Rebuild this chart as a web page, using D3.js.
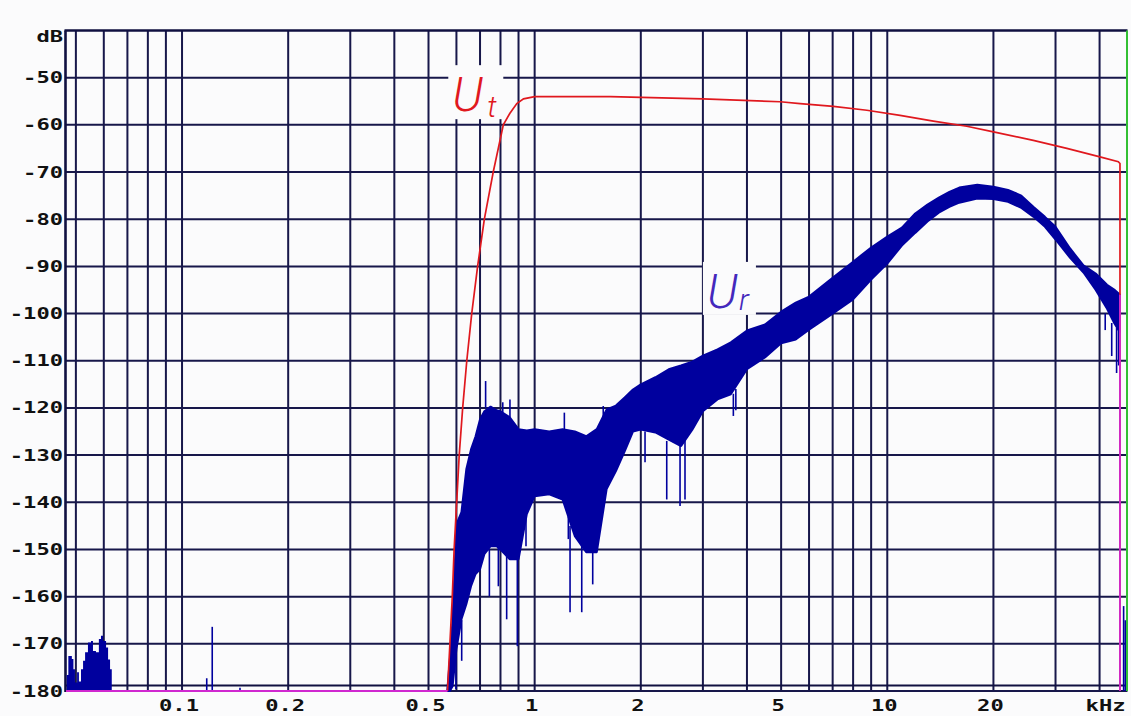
<!DOCTYPE html>
<html>
<head>
<meta charset="utf-8">
<script src="https://cdn.jsdelivr.net/npm/d3@7"></script>
<style>
  body { margin: 0; background: #fbfbfc; }
  svg { display: block; }
</style>
</head>
<body>
<div id="root"></div>
<script>
// frequency in kHz, level in dB

const xTickValues = [0.1, 0.2, 0.5, 1, 2, 5, 10, 20];
const xTickLabels = ["0.1", "0.2", "0.5", "1", "2", "5", "10", "20"];
const yTickValues = [-50, -60, -70, -80, -90, -100, -110, -120, -130, -140, -150, -160, -170, -180];
const yTickLabels = ["-50", "-60", "-70", "-80", "-90", "-100", "-110", "-120", "-130", "-140", "-150", "-160", "-170", "-180"];

// U_t, transmitted level
const utFreq = [0.566, 0.575, 0.584, 0.591, 0.601, 0.611, 0.625, 0.642, 0.663, 0.689, 0.72, 0.763, 0.815, 0.85, 0.89, 0.93, 1.0, 1.64, 3.0, 4.97, 5.66, 7.03, 8.75, 10.87, 13.51, 16.8, 20.0, 25.95, 32.3, 40.1, 45.2, 45.7, 45.7];
const utDb = [-180, -170, -160, -150, -140, -130, -120, -110, -100, -90, -80, -70, -60, -57.6, -55.5, -54.5, -54.0, -54.0, -54.5, -55.1, -55.5, -56.1, -56.9, -58.0, -59.2, -60.3, -61.5, -63.3, -65.0, -66.8, -67.8, -68.2, -180];

// U_r, received level: noisy band read as upper / lower envelope
const urFreq = [0.565, 0.575, 0.585, 0.6, 0.62, 0.64, 0.66, 0.68, 0.7, 0.72, 0.75, 0.78, 0.8, 0.85, 0.9, 0.95, 1.0, 1.1, 1.2, 1.3, 1.4, 1.5, 1.6, 1.7, 1.8, 1.9, 2.0, 2.2, 2.4, 2.6, 2.8, 3.0, 3.3, 3.6, 4.0, 4.5, 5.0, 5.5, 6.0, 7, 8, 9, 10, 11, 12, 13, 14, 15, 16, 18, 20, 22, 24, 26, 28, 30, 33, 36, 39, 42, 44, 45.7];
const urHigh = [-180, -173.2, -164.8, -144.7, -142.1, -133.0, -128.8, -126.0, -122.4, -120.7, -119.7, -120.5, -120.7, -122.0, -124.5, -124.8, -124.5, -125.0, -124.5, -125.0, -126.0, -124.5, -120.3, -119.5, -117.8, -116.1, -115.0, -113.5, -111.8, -111.0, -110.2, -108.9, -107.6, -106.1, -103.6, -102.3, -99.6, -97.7, -96.4, -92.4, -89.0, -86.0, -83.7, -81.8, -78.8, -76.9, -75.4, -74.2, -73.3, -72.7, -73.1, -73.8, -75.0, -77.4, -79.5, -81.6, -86.2, -89.8, -91.5, -93.9, -94.9, -96.0];
const urLow = [-180, -180, -179, -171.1, -164.8, -161.6, -157.8, -155.2, -154.2, -151.0, -149.3, -149.3, -150.0, -152.1, -152.1, -142.5, -138.7, -138.3, -139.4, -147.2, -150.6, -150.6, -137.2, -133.4, -129.2, -125.0, -124.6, -125.2, -126.7, -128.1, -124.6, -120.7, -118.2, -117.1, -111.8, -109.3, -106.3, -105.5, -103.4, -100.0, -97.0, -92.8, -89.4, -85.6, -82.9, -80.5, -78.6, -77.4, -76.5, -75.6, -75.7, -76.3, -77.6, -79.5, -81.6, -84.3, -88.2, -91.3, -95.0, -99.0, -102.0, -104.0];

// single spikes of U_r: frequency, start level, end level
const spikeFreq = [0.598, 0.621, 0.744, 0.789, 0.833, 0.893, 0.945, 1.246, 1.26, 1.36, 1.461, 2.056, 2.369, 2.584, 2.669, 3.66, 3.72, 41.5, 43.3, 44.7, 45.3, 0.726, 0.812, 0.851, 1.214, 1.565, 0.1175, 0.1218, 0.146, 46.8, 47.3];
const spikeFrom = [-171, -165, -150, -149.5, -151, -152, -143, -143, -145, -149, -150, -125, -127, -128, -127, -117, -116, -100, -102, -103, -103, -120, -121, -122, -124.5, -122, -180, -180, -180, -180, -180];
const spikeTo = [-179.6, -173.6, -159.9, -157.8, -164.8, -170.5, -149.3, -147.8, -163.3, -163.3, -157.4, -131.5, -139.4, -140.8, -139.4, -121.7, -120.5, -103.5, -109.0, -112.6, -111.0, -114.3, -118.8, -118.2, -121.0, -119.6, -177.3, -166.4, -179.3, -162, -165];

// low-frequency hum cluster of U_r
const humFreq = [0.0469, 0.0471, 0.0476, 0.0481, 0.0487, 0.0492, 0.0497, 0.0504, 0.0510, 0.0517, 0.0524, 0.0531, 0.0541, 0.0552, 0.0559, 0.0570, 0.0581, 0.0589, 0.0597, 0.0609, 0.0617, 0.0625, 0.0632];
const humTop = [-180, -176.6, -172.6, -172.6, -173.2, -175.4, -178.2, -176.0, -178.0, -175.4, -173.6, -171.8, -169.7, -169.4, -171.5, -171.8, -169.0, -168.3, -169.4, -170.8, -173.3, -175.4, -177.9];

// where U_t and U_r coincide (drawn magenta)
const overlapBaseFreq = [0.046875, 0.566];
const overlapBaseDb = [-180, -180];
const overlapEdgeFreq = [45.7, 45.7];
const overlapEdgeDb = [-96, -180];

const width = 1131, height = 716;

const x = d3.scaleLog().domain([0.046875, 48]).range([66, 1127.5]);
const y = d3.scaleLinear().domain([-180, -40]).range([691, 30.5]);

const gridColor = "#17174a";
const blue = "#00009e";
const red = "#e0181e";
const magenta = "#d028d0";
const labelFont = "'DejaVu Sans Mono', 'Liberation Mono', monospace";

const svg = d3.select("#root").append("svg")
  .attr("width", width)
  .attr("height", height)
  .attr("viewBox", [0, 0, width, height]);

svg.append("rect").attr("width", width).attr("height", height).attr("fill", "#fbfbfc");

// grid
const grid = svg.append("g").attr("stroke", gridColor).attr("stroke-width", 2);
grid.selectAll("line.v")
  .data(x.ticks().filter((t) => t < 48))
  .join("line")
  .attr("class", "v")
  .attr("x1", (d) => x(d)).attr("x2", (d) => x(d))
  .attr("y1", y(-40)).attr("y2", y(-180));
grid.selectAll("line.h")
  .data(yTickValues)
  .join("line")
  .attr("class", "h")
  .attr("x1", x.range()[0]).attr("x2", x.range()[1])
  .attr("y1", (d) => y(d)).attr("y2", (d) => y(d));

// frame
const frame = svg.append("g").attr("stroke", "#101040");
frame.append("line").attr("stroke-width", 2.6)
  .attr("x1", x.range()[0] - 1.5).attr("x2", x.range()[1]).attr("y1", y(-40)).attr("y2", y(-40));
frame.append("line").attr("stroke-width", 2.6)
  .attr("x1", x.range()[0] - 0.5).attr("x2", x.range()[0] - 0.5).attr("y1", y(-40)).attr("y2", y(-180) + 1);
frame.append("line").attr("stroke-width", 1.8)
  .attr("x1", x.range()[0]).attr("x2", x.range()[1]).attr("y1", y(-180) - 5.5).attr("y2", y(-180) - 5.5);

// axis labels
function monoText(g, str) {
  return g.append("text")
    .attr("font-family", labelFont)
    .attr("font-weight", "bold")
    .attr("font-size", 15)
    .attr("fill", "#111")
    .attr("textLength", str.length * 13.3)
    .attr("lengthAdjust", "spacingAndGlyphs")
    .text(str);
}

const yLab = svg.append("g");
yTickValues.forEach((v, i) => {
  monoText(yLab, yTickLabels[i]).attr("text-anchor", "end").attr("x", 63).attr("y", y(v) + 5.5);
});
monoText(yLab, "dB").attr("text-anchor", "end").attr("x", 63).attr("y", y(-40) + 11);

const xLab = svg.append("g");
xTickValues.forEach((v, i) => {
  monoText(xLab, xTickLabels[i]).attr("text-anchor", "middle").attr("x", x(v) - 3).attr("y", 711);
});
monoText(xLab, "kHz").attr("text-anchor", "middle").attr("x", x(40) + 6).attr("y", 711);

// curve labels with a blank box behind them
function curveLabel(main, sub, f, db, color, subDx, subDy) {
  const g = svg.append("g");
  const box = g.append("rect").attr("fill", "#fbfbfc");
  const t = g.append("g").attr("fill", color)
    .attr("font-family", "Roboto, 'Liberation Sans', sans-serif")
    .attr("font-style", "italic")
    .attr("font-weight", 300);
  t.append("text").attr("x", x(f)).attr("y", y(db)).attr("font-size", 48).text(main);
  t.append("text").attr("x", x(f) + subDx).attr("y", y(db) + subDy).attr("font-size", 30).text(sub);
  const b = t.node().getBBox();
  box.attr("x", b.x - 4).attr("y", b.y - 1).attr("width", b.width + 10).attr("height", b.height - 4);
}
curveLabel("U", "t", 0.584, -57.1, red, 35, 6);
curveLabel("U", "r", 3.08, -98.8, "#4428bc", 32, 2);

// U_r
const band = d3.range(urFreq.length).map((i) => ({ f: urFreq[i], hi: urHigh[i], lo: urLow[i] }));
svg.append("path")
  .datum(band)
  .attr("fill", blue)
  .attr("stroke", blue)
  .attr("stroke-width", 2)
  .attr("stroke-linejoin", "bevel")
  .attr("d", d3.area().x((d) => x(d.f)).y0((d) => y(d.lo)).y1((d) => y(d.hi)));

const hum = humFreq.map((f, i) => ({ f, db: humTop[i] }));
svg.append("path")
  .datum(hum)
  .attr("fill", blue)
  .attr("d", d3.area().curve(d3.curveStepAfter).x((d) => x(d.f)).y0(y(-180)).y1((d) => y(d.db)));

svg.append("g")
  .attr("stroke", blue)
  .attr("stroke-width", 1.6)
  .selectAll("line")
  .data(spikeFreq.map((f, i) => ({ f, a: spikeFrom[i], b: spikeTo[i] })))
  .join("line")
  .attr("x1", (d) => x(d.f)).attr("x2", (d) => x(d.f))
  .attr("y1", (d) => y(d.a)).attr("y2", (d) => y(d.b));

// U_t
const line = d3.line().x((d) => x(d.f)).y((d) => y(d.db));
svg.append("path")
  .datum(utFreq.map((f, i) => ({ f, db: utDb[i] })))
  .attr("fill", "none")
  .attr("stroke", red)
  .attr("stroke-width", 1.7)
  .attr("d", line);

// overlap of both
[[overlapBaseFreq, overlapBaseDb], [overlapEdgeFreq, overlapEdgeDb]].forEach(([fs, ds]) => {
  svg.append("path")
    .datum(fs.map((f, i) => ({ f, db: ds[i] })))
    .attr("fill", "none")
    .attr("stroke", magenta)
    .attr("stroke-width", 1.8)
    .attr("d", line);
});

// right edge marker
svg.append("line")
  .attr("stroke", "#33c033")
  .attr("stroke-width", 2)
  .attr("x1", x(48) - 0.5).attr("x2", x(48) - 0.5)
  .attr("y1", y(-40)).attr("y2", y(-180));
</script>
</body>
</html>
